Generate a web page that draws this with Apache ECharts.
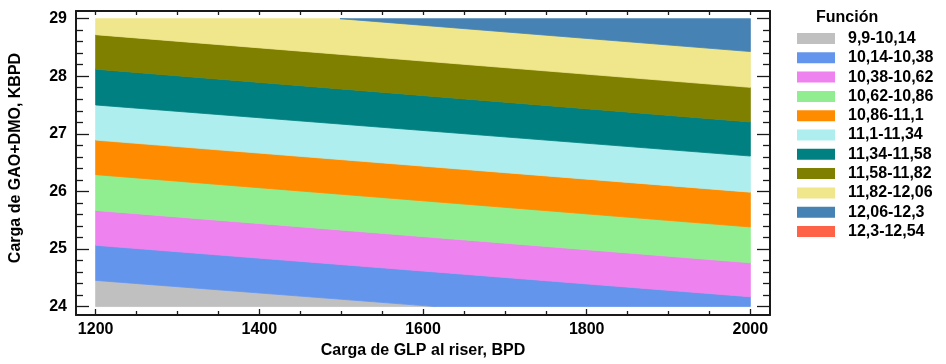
<!DOCTYPE html>
<html>
<head>
<meta charset="utf-8">
<script src="https://cdn.jsdelivr.net/npm/echarts@6/dist/echarts.min.js"></script>
<style>
html,body{margin:0;padding:0;background:#fff;}
#chart{width:946px;height:364px;}
</style>
</head>
<body>
<div id="chart"></div>
<script>
// ---- data ----
const contourLevels = [9.9, 10.14, 10.38, 10.62, 10.86, 11.1, 11.34, 11.58, 11.82, 12.06, 12.3, 12.54];
const bandNames = ['9,9-10,14', '10,14-10,38', '10,38-10,62', '10,62-10,86', '10,86-11,1', '11,1-11,34',
                   '11,34-11,58', '11,58-11,82', '11,82-12,06', '12,06-12,3', '12,3-12,54'];
// y (KBPD) where each contour level crosses x = 1200 and x = 2000 BPD
const contourX = [1200, 2000];
const levelYAtLeft  = [23.84, 24.454, 25.064, 25.669, 26.291, 26.891, 27.501, 28.123, 28.722, 29.34, 29.95, 30.56];
const levelYAtRight = [22.96, 23.58, 24.17, 24.76, 25.382, 25.987, 26.614, 27.207, 27.807, 28.429, 29.04, 29.65];
const xDomain = [1200, 2000];
const yDomain = [24, 29];
const xMajorTicks = [1200, 1400, 1600, 1800, 2000];
const xMinorTicks = [1250, 1300, 1350, 1450, 1500, 1550, 1650, 1700, 1750, 1850, 1900, 1950];
const xAllTicks = [1200, 1250, 1300, 1350, 1400, 1450, 1500, 1550, 1600, 1650, 1700, 1750, 1800, 1850, 1900, 1950, 2000];
const yMajorTicks = [24, 25, 26, 27, 28, 29];
const yMinorTicks = [24.2, 24.4, 24.6, 24.8, 25.2, 25.4, 25.6, 25.8, 26.2, 26.4, 26.6, 26.8,
                     27.2, 27.4, 27.6, 27.8, 28.2, 28.4, 28.6, 28.8];
const legendTitle = 'Función';
const xTitle = 'Carga de GLP al riser, BPD';
const yTitle = 'Carga de GAO+DMO, KBPD';

// ---- styles ----
const bandColors = ['#c0c0c0', '#6495ed', '#ee82ee', '#90ee90', '#ff8c00', '#afeeee',
                    '#008080', '#808000', '#f0e68c', '#4682b4', '#ff6347'];
const FONT = '"Liberation Sans", Arial, sans-serif';
const AX = '#1a1a1a';

function clipY(poly, yLim, keepAbove) {
  const out = [];
  for (let i = 0; i < poly.length; i++) {
    const a = poly[i], b = poly[(i + 1) % poly.length];
    const inA = keepAbove ? a[1] >= yLim : a[1] <= yLim;
    const inB = keepAbove ? b[1] >= yLim : b[1] <= yLim;
    if (inA) out.push(a);
    if (inA !== inB) {
      const t = (yLim - a[1]) / (b[1] - a[1]);
      out.push([a[0] + t * (b[0] - a[0]), yLim]);
    }
  }
  return out;
}

function renderBand(params, api) {
  const x0 = api.value(0), lo0 = api.value(1), up0 = api.value(2);
  const x1 = api.value(3), lo1 = api.value(4), up1 = api.value(5);
  let poly = [[x0, lo0], [x1, lo1], [x1, up1], [x0, up0]];
  poly = clipY(poly, yDomain[0], true);
  if (poly.length) poly = clipY(poly, yDomain[1], false);
  if (poly.length < 3) return null;
  const pts = poly.map(p => api.coord(p));
  const c = api.visual('color');
  return {
    type: 'polygon',
    shape: { points: pts },
    style: { fill: c, stroke: c, lineWidth: 0.8 }
  };
}

const series = bandNames.map((name, i) => ({
  type: 'custom',
  name: name,
  xAxisIndex: 0,
  yAxisIndex: 0,
  renderItem: renderBand,
  itemStyle: { color: bandColors[i] },
  encode: { x: [0, 3], y: [1, 2, 4, 5] },
  data: [[contourX[0], levelYAtLeft[i], levelYAtLeft[i + 1], contourX[1], levelYAtRight[i], levelYAtRight[i + 1]]],
  silent: true
}));

const X_MIN = 1176, X_MAX = 2024, Y_MIN = 23.853, Y_MAX = 29.133;

function xAx(opts) {
  return Object.assign({
    type: 'value', min: X_MIN, max: X_MAX, gridIndex: 0,
    splitLine: { show: false },
    axisLine: { show: false },
    axisLabel: { show: false },
    axisTick: { show: false }
  }, opts);
}
function yAx(opts) {
  return Object.assign({
    type: 'value', min: Y_MIN, max: Y_MAX, gridIndex: 0,
    splitLine: { show: false },
    axisLine: { show: false },
    axisLabel: { show: false },
    axisTick: { show: false }
  }, opts);
}
const tickLine = { color: AX, width: 1.3 };
const labelStyle = { show: true, color: '#000', fontFamily: FONT, fontWeight: 'bold', fontSize: 16,
                     formatter: v => String(v) };

const option = {
  animation: false,
  backgroundColor: '#fff',
  grid: { left: 76, top: 11, width: 694, height: 305, containLabel: false },
  title: {
    text: legendTitle, left: 816, top: 10, padding: 0,
    textStyle: { fontFamily: FONT, fontWeight: 'bold', fontSize: 16, color: '#000' }
  },
  legend: {
    orient: 'vertical', left: 797, top: 30.5, padding: 0,
    itemWidth: 38, itemHeight: 11, itemGap: 3.3,
    icon: 'rect',
    data: bandNames,
    textStyle: { fontFamily: FONT, fontWeight: 'bold', fontSize: 16, color: '#000', lineHeight: 16, padding: [0, 0, 0, 8] }
  },
  xAxis: [
    xAx({
      position: 'bottom',
      axisLine: { show: true, onZero: false, lineStyle: { color: AX, width: 2 } },
      axisTick: { show: true, inside: true, length: 6, lineStyle: tickLine, customValues: xMajorTicks },
      axisLabel: Object.assign({ margin: 7, customValues: xMajorTicks }, labelStyle),
      name: xTitle, nameLocation: 'middle', nameGap: 28,
      nameTextStyle: { fontFamily: FONT, fontWeight: 'bold', fontSize: 16, color: '#000' }
    }),
    xAx({
      position: 'bottom',
      axisTick: { show: true, inside: true, length: 4, lineStyle: tickLine, customValues: xMinorTicks }
    }),
    xAx({
      position: 'top',
      axisLine: { show: true, onZero: false, lineStyle: { color: AX, width: 2 } },
      axisTick: { show: true, inside: true, length: 4, lineStyle: tickLine, customValues: xAllTicks }
    })
  ],
  yAxis: [
    yAx({
      position: 'left',
      axisLine: { show: true, onZero: false, lineStyle: { color: AX, width: 2 } },
      axisTick: { show: true, inside: true, length: 13, lineStyle: tickLine, customValues: yMajorTicks },
      axisLabel: Object.assign({ margin: 9, customValues: yMajorTicks }, labelStyle),
      name: yTitle, nameLocation: 'middle', nameGap: 52, nameRotate: 90,
      nameTextStyle: { fontFamily: FONT, fontWeight: 'bold', fontSize: 16, color: '#000', padding: [0, 0, 0, 10] }
    }),
    yAx({
      position: 'left',
      axisTick: { show: true, inside: true, length: 7, lineStyle: tickLine, customValues: yMinorTicks }
    }),
    yAx({
      position: 'right',
      axisLine: { show: true, onZero: false, lineStyle: { color: AX, width: 2 } },
      axisTick: { show: true, inside: true, length: 13, lineStyle: tickLine, customValues: yMajorTicks }
    }),
    yAx({
      position: 'right',
      axisTick: { show: true, inside: true, length: 7, lineStyle: tickLine, customValues: yMinorTicks }
    })
  ],
  series: series
};

const chart = echarts.init(document.getElementById('chart'), null, { renderer: 'canvas' });
chart.setOption(option);
</script>
</body>
</html>
